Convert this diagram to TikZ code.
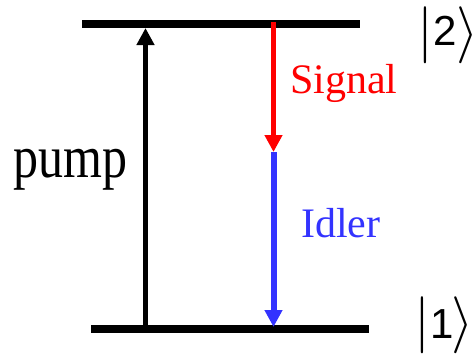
\RequirePackage{fix-cm}
\documentclass[tikz,border=0pt]{standalone}
\usepackage{fontspec}
\setmainfont{Liberation Serif}
\newfontfamily\labelfont{Liberation Serif}
\newfontfamily\ketfont{Liberation Sans}
\usetikzlibrary{arrows.meta}
\definecolor{sigred}{RGB}{255,0,0}
\definecolor{idlblue}{RGB}{51,51,255}
\newcommand{\bigdelim}[1]{{\fontsize{57}{60}\selectfont$#1$}}
\begin{document}
\begin{tikzpicture}[x=1pt,y=-1pt,
  level/.style={line width=8pt},
  trans/.style={line width=5pt,-{Triangle[width=17pt,length=17pt]}},
  lbl/.style={inner sep=0pt,anchor=base west,font=\labelfont},
  ketnode/.style={inner sep=0pt,anchor=base west}]
\useasboundingbox (0,0) rectangle (476,354);
% levels
\coordinate (u1) at (82,24);
\coordinate (u2) at (360,24);
\coordinate (l1) at (91,328.5);
\coordinate (l2) at (369,328.5);
\draw[level] (u1) -- (u2);
\draw[level] (l1) -- (l2);
% pump
\coordinate (p0) at (145.5,325);
\coordinate (p1) at (145.5,28);
\draw[trans] (p0) -- (p1);
% signal / idler
\coordinate (s0) at (273.5,22);
\coordinate (mid) at (273.5,152);
\coordinate (i1) at (273.5,327);
\draw[trans,sigred] (s0) -- (mid);
\draw[trans,idlblue,line width=6pt] (mid) -- (i1);
% labels
\node[lbl] (pump) at (13,177) {\fontsize{50}{60}\selectfont\scalebox{1}[1.2]{pump}};
\node[lbl,text=sigred] (sig) at (290,93) {\fontsize{42}{50}\selectfont Signal};
\node[lbl,text=idlblue] (idl) at (301,237) {\fontsize{42}{50}\selectfont Idler};
% kets
\node[ketnode] (k2) at (417,49.5) {\bigdelim{|}{\ketfont\fontsize{42}{50}\selectfont\raisebox{4.5pt}{2}}\bigdelim{\rangle}};
\node[ketnode] (k1) at (414.6,339) {\bigdelim{|}{\ketfont\fontsize{42}{50}\selectfont\raisebox{1pt}{1}}\kern-2.5pt\bigdelim{\rangle}};
\end{tikzpicture}
\end{document}
